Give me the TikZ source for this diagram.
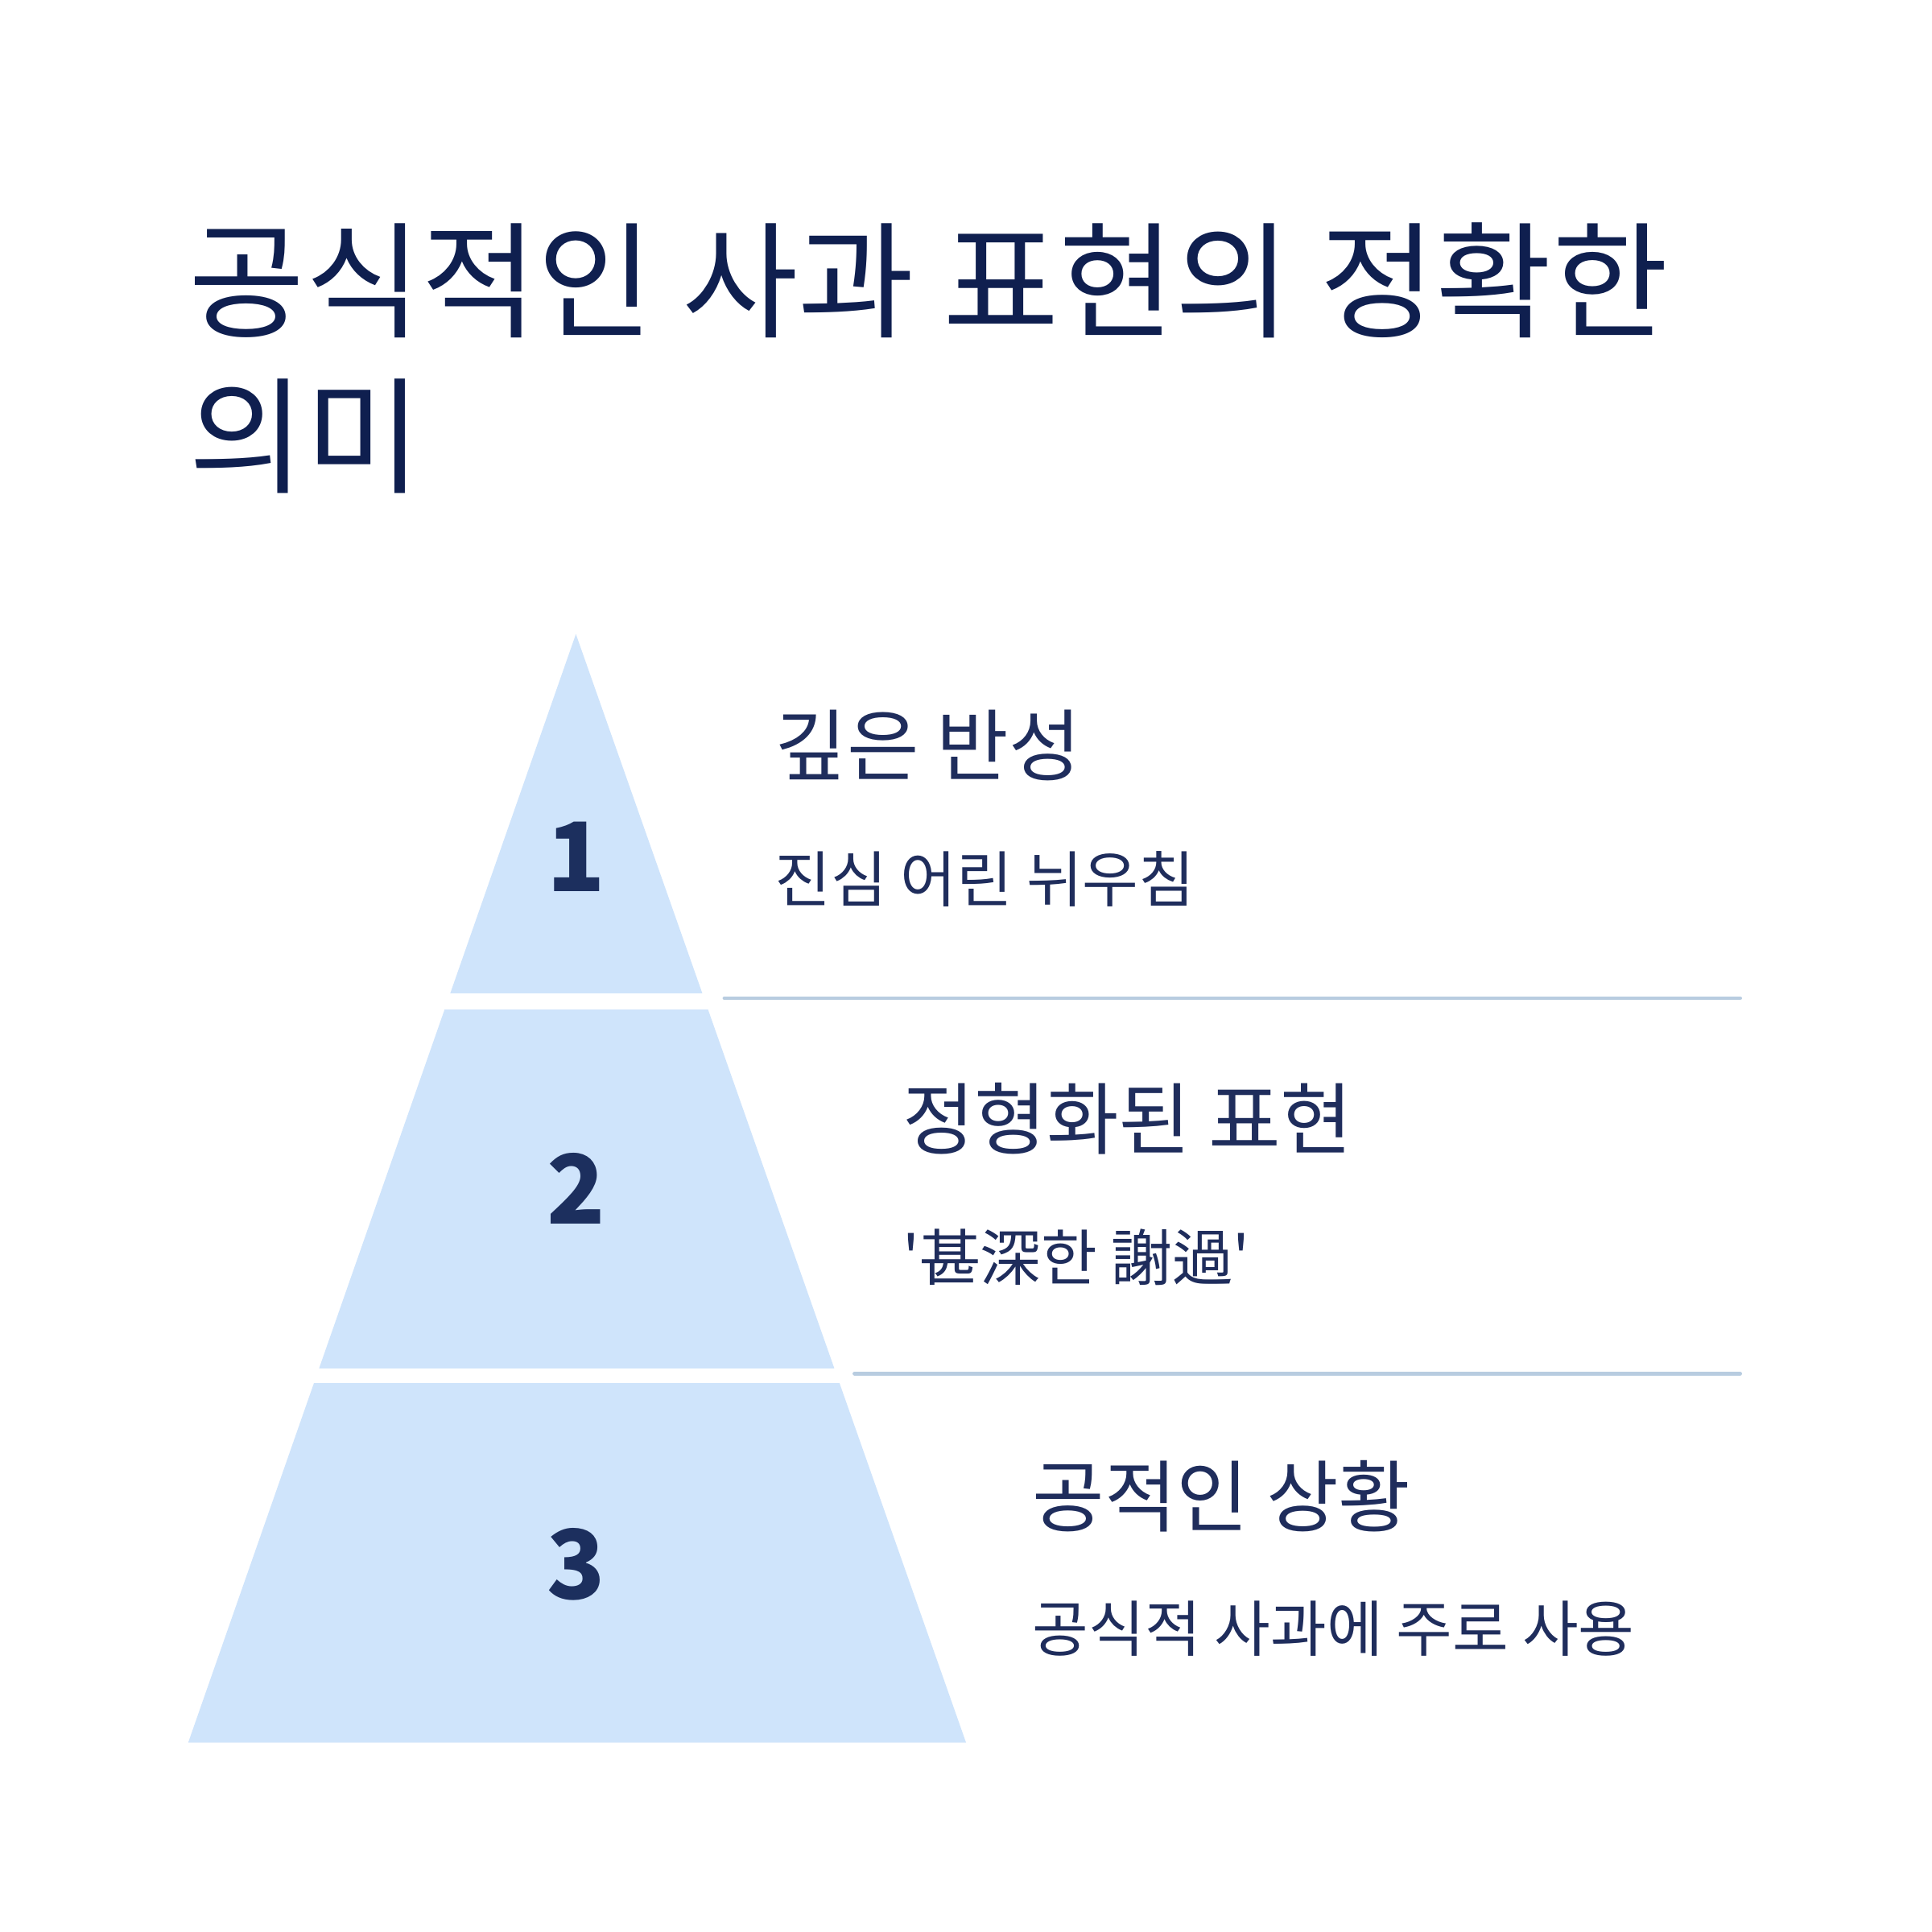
\documentclass[tikz,border=0pt]{standalone}
\usepackage{fontspec}
\newfontfamily\kr{Noto Sans CJK KR}
\definecolor{navy}{HTML}{0F1F4F}
\definecolor{num}{HTML}{1C2F5E}
\definecolor{tier}{HTML}{CFE4FB}
\definecolor{sep}{HTML}{B8CCE0}
\definecolor{txt}{HTML}{1F2D5C}
\tikzset{
  px/.style={x=0.01cm,y=-0.01cm},
  title/.style={anchor=base west,inner sep=0,font=\kr\fontsize{29}{34}\selectfont,text=navy},
  head/.style={anchor=west,inner sep=0,font=\kr\fontsize{18}{22}\selectfont,text=txt},
  sub/.style={anchor=west,inner sep=0,font=\kr\fontsize{14}{17}\selectfont,text=txt},
  numb/.style={inner sep=0,font=\kr\bfseries\fontsize{22}{26}\selectfont,text=num},
  sepline/.style={draw=sep,line width=0.9pt,line cap=round}
}
\begin{document}
\begin{tikzpicture}[px]
\useasboundingbox (0,0) rectangle (1560,1560);
\fill[white] (0,0) rectangle (1560,1560);
\node[title] (t1) at (152,265) {공식적인 사과 표현의 정확한};
\node[title] (t2) at (152,390) {의미};
\fill[tier] (465,512) -- (780,1407) -- (152,1407) -- cycle;
\fill[white] (100,802) rectangle (800,815);
\fill[white] (100,1105) rectangle (800,1117);
\node[numb] (n1) at (465,692) {1};
\node[numb] (n2) at (465,960) {2};
\node[numb] (n3) at (465,1263) {3};
\node[head] (h1) at (625,602) {깊은 반성};
\node[sub] (s1) at (625,710) {진심 어린 뉘우침};
\node[head] (h2) at (728,903) {정형화된 표현};
\node[sub] (s2) at (728,1015) {'甚深한 謝過'};
\node[head] (h3) at (833,1208) {공적인 상황};
\node[sub] (s3) at (833,1315) {공식적 사과에 주로 사용};
\coordinate (a1) at (585,806); \coordinate (b1) at (1405,806);
\coordinate (a2) at (690,1109); \coordinate (b2) at (1405,1109);
\draw[sepline] (a1) -- (b1);
\draw[sepline] (a2) -- (b2);
\end{tikzpicture}
\end{document}
